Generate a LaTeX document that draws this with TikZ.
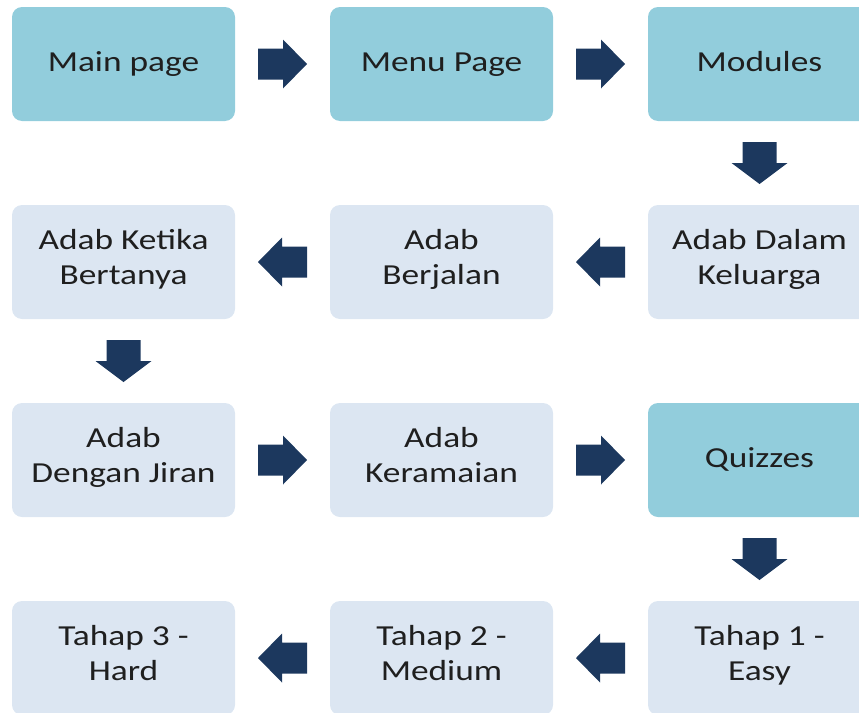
\documentclass[tikz,border=0pt]{standalone}
\usepackage{fontspec}
\newfontfamily\boxfont[FakeStretch=1.22]{Carlito}
\usetikzlibrary{calc}
\definecolor{darkbox}{RGB}{146,205,220}
\definecolor{lightbox}{RGB}{220,230,242}
\definecolor{arrowblue}{RGB}{28,56,94}
\tikzset{
  box/.style={rounded corners=10pt, minimum width=223pt, minimum height=114pt,
    inner sep=0pt, align=center, text=black!88,
    font=\boxfont\fontsize{29}{35}\selectfont,
    execute at begin node=\strut, execute at end node=\strut},
  dbox/.style={box, fill=darkbox},
  lbox/.style={box, fill=lightbox},
  harr/.pic={\fill[arrowblue] (-24.5,-15.5) -- (0.5,-15.5) -- (0.5,-24.5) -- (24.5,0)
     -- (0.5,24.5) -- (0.5,15.5) -- (-24.5,15.5) -- cycle;},
  varr/.pic={\fill[arrowblue] (-17,-21) -- (17,-21) -- (17,0) -- (28,0) -- (0,21)
     -- (-28,0) -- (-17,0) -- cycle;}
}
\begin{document}
\begin{tikzpicture}[x=1pt,y=-1pt]
\clip (0,0) rectangle (859,712);
% row 1
\node[dbox] (main) at (123.5,64) {Main page};
\node[dbox] (menu) at (441.5,64) {Menu Page};
\node[dbox] (mod)  at (759.5,64) {Modules};
% row 2
\node[lbox] (ketika) at (123.5,262) {Adab Ketika\\Bertanya};
\node[lbox] (jalan)  at (441.5,262) {Adab\\Berjalan};
\node[lbox] (kel)    at (759.5,262) {Adab Dalam\\Keluarga};
% row 3
\node[lbox] (jiran) at (123.5,460) {Adab\\Dengan Jiran};
\node[lbox] (ram)   at (441.5,460) {Adab\\Keramaian};
\node[dbox] (quiz)  at (759.5,460) {Quizzes};
% row 4
\node[lbox] (t3) at (123.5,658) {Tahap 3 -\\Hard};
\node[lbox] (t2) at (441.5,658) {Tahap 2 -\\Medium};
\node[lbox] (t1) at (759.5,658) {Tahap 1 -\\Easy};
% connectors
\pic at ($(main.east)!0.5!(menu.west)$) {harr};
\pic at ($(menu.east)!0.5!(mod.west)$) {harr};
\pic at ($(mod.south)!0.5!(kel.north)$) {varr};
\pic[xscale=-1] at ($(kel.west)!0.5!(jalan.east)$) {harr};
\pic[xscale=-1] at ($(jalan.west)!0.5!(ketika.east)$) {harr};
\pic at ($(ketika.south)!0.5!(jiran.north)$) {varr};
\pic at ($(jiran.east)!0.5!(ram.west)$) {harr};
\pic at ($(ram.east)!0.5!(quiz.west)$) {harr};
\pic at ($(quiz.south)!0.5!(t1.north)$) {varr};
\pic[xscale=-1] at ($(t1.west)!0.5!(t2.east)$) {harr};
\pic[xscale=-1] at ($(t2.west)!0.5!(t3.east)$) {harr};
\end{tikzpicture}
\end{document}
